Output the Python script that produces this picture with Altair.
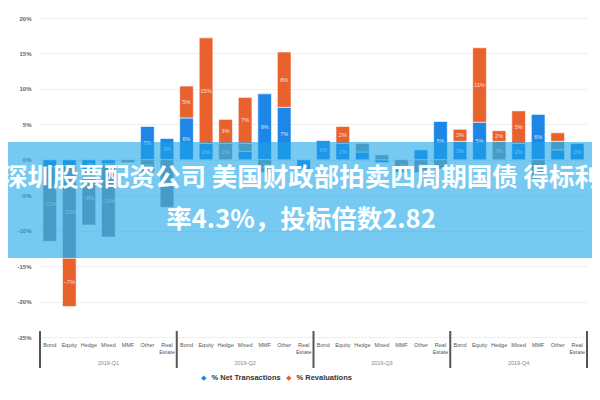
import altair as alt
import pandas as pd

groups = ["2019-Q1", "2019-Q2", "2019-Q3", "2019-Q4"]
categories = ["Bond", "Equity", "Hedge", "Mixed", "MMF", "Other", "Real\nEstate"]

# 28 bars: 4 groups x 7 categories (values in %)
net_tx = [-1.0, -0.8, -1.5, -0.6, 0.0, 4.7, 3.0,
          5.9, 2.3, 0.0, 1.2, 9.3, 7.4, -1.4,
          2.7, 2.3, 1.1, -0.4, 0.0, 1.4, 5.4,
          2.6, 5.3, 0.0, 2.3, 6.4, 1.4, 2.3]
other_flows = [-10.5, -13.1, -7.7, -10.3, -0.4, -1.8, -6.7,
               0.0, 0.0, 2.3, 1.1, -1.8, 0.0, 0.0,
               0.0, 0.0, 1.2, 0.7, -1.8, -1.8, -1.3,
               0.0, 0.0, 2.6, 0.0, -2.7, 1.2, 0.0]
revaluations = [0.0, -6.8, 0.0, 0.0, 0.0, 0.0, 0.0,
                4.5, 14.9, 3.4, 6.5, 0.0, 7.8, 0.0,
                0.0, 2.4, 0.0, 0.0, 0.0, 0.0, 0.0,
                1.7, 10.5, 1.5, 4.6, 0.0, 1.2, 0.0]

series_names = ["% Net Transactions", "% Other", "% Revaluations"]
series_colors = ["#1E86E6", "#868E93", "#E9622E"]
legend_items = ["% Net Transactions", "% Revaluations"]
y_ticks = [-25, -20, -15, -10, -5, 0, 5, 10, 15, 20]
group_bounds = [0, 7, 14, 21, 28]
title_line1 = "深圳股票配资公司 美国财政部拍卖四周期国债 得标利"
title_line2 = "率4.3%，投标倍数2.82"

rows = []
for gi, g in enumerate(groups):
    for ci, c in enumerate(categories):
        idx = gi * 7 + ci
        for si, vals in enumerate([net_tx, other_flows, revaluations]):
            v = vals[idx]
            if v != 0:
                rows.append(dict(idx=idx, group=g, category=c,
                                 series=series_names[si], order=si, value=v))
df = pd.DataFrame(rows)

cat_df = pd.DataFrame([dict(idx=gi * 7 + ci, label=c)
                       for gi in range(len(groups)) for ci, c in enumerate(categories)])
grp_df = pd.DataFrame(dict(group=groups, start=[gi * 7 for gi in range(len(groups))]))
sep_df = pd.DataFrame(dict(pos=group_bounds))

xscale = alt.Scale(domain=[0, 28], nice=False, zero=False)
yscale = alt.Scale(domain=[-25, 20], nice=False, zero=False)


def yaxis():
    return alt.Axis(values=y_ticks, labelExpr="datum.value + '%'", title=None,
                    grid=True, gridColor="#eeeeee", domain=False, ticks=False,
                    labelFontSize=6, labelColor="#666", labelPadding=9,
                    labelOverlap=False, labelFontWeight="bold", tickCount=10)


base = alt.Chart(df).transform_stack(
    stack="value", groupby=["idx"], as_=["v0", "v1"],
    sort=[alt.SortField("order", order="ascending")]
).transform_calculate(
    xa="datum.idx + 0.15", xb="datum.idx + 0.85", xm="datum.idx + 0.5",
    ym="(datum.v0 + datum.v1) / 2",
    lab="format(datum.value, '.0f') + '%'"
)

bars = base.mark_bar(stroke="white", strokeWidth=0.6).encode(
    x=alt.X("xa:Q", scale=xscale, axis=None),
    x2="xb:Q",
    y=alt.Y("v0:Q", scale=yscale, axis=yaxis()),
    y2="v1:Q",
    color=alt.Color("series:N",
                    scale=alt.Scale(domain=series_names, range=series_colors),
                    legend=alt.Legend(orient="none", legendX=160, legendY=356,
                                      direction="horizontal", title=None,
                                      values=legend_items, symbolType="diamond",
                                      symbolSize=30, labelFontSize=7.5,
                                      labelFontWeight="bold", labelColor="#333",
                                      columnPadding=4, symbolStrokeWidth=0)),
)

labels = base.transform_filter("abs(datum.value) >= 1.5").mark_text(
    fontSize=5.5, color="white", opacity=0.8
).encode(
    x=alt.X("xm:Q", scale=xscale, axis=None),
    y=alt.Y("ym:Q", scale=yscale, axis=yaxis()),
    text="lab:N",
)

cat_labels = alt.Chart(cat_df).transform_calculate(
    xm="datum.idx + 0.5"
).mark_text(fontSize=5.5, color="#555", lineBreak="\n", baseline="top",
            lineHeight=7).encode(
    x=alt.X("xm:Q", scale=xscale, axis=None),
    y=alt.value(325),
    text="label:N",
)

grp_labels = alt.Chart(grp_df).transform_calculate(
    xm="datum.start + 3.5"
).mark_text(fontSize=5.5, color="#888", baseline="middle").encode(
    x=alt.X("xm:Q", scale=xscale, axis=None),
    y=alt.value(345),
    text="group:N",
)

seps = alt.Chart(sep_df).mark_rule(color="#555", strokeWidth=2).encode(
    x=alt.X("pos:Q", scale=xscale, axis=None),
    y=alt.value(313),
    y2=alt.value(350),
)

banner = alt.Chart(pd.DataFrame({"t": [0]})).mark_rect(
    color="#1AA5E8", opacity=0.6
).encode(
    x=alt.value(-40), x2=alt.value(560), y=alt.value(124), y2=alt.value(240)
)

t1 = alt.Chart(pd.DataFrame({"t": [title_line1]})).mark_text(
    font="Noto Sans CJK SC", fontWeight="bold", fontSize=25.5, color="white",
    align="center", baseline="middle"
).encode(x=alt.value(261), y=alt.value(160), text="t:N")

t2 = alt.Chart(pd.DataFrame({"t": [title_line2]})).mark_text(
    font="Noto Sans CJK SC", fontWeight="bold", fontSize=25.5, color="white",
    align="center", baseline="middle"
).encode(x=alt.value(261), y=alt.value(202), text="t:N")

chart = alt.layer(bars, labels, cat_labels, grp_labels, seps, banner, t1, t2).properties(
    width=547, height=319,
    autosize=alt.AutoSizeParams(type="none"),
    padding={"left": 32, "top": 10, "right": 5, "bottom": 55},
).configure_view(stroke=None).configure_axis(labelOverlap=False)

chart.save("out.html", embed_options={"renderer": "svg", "actions": False})
